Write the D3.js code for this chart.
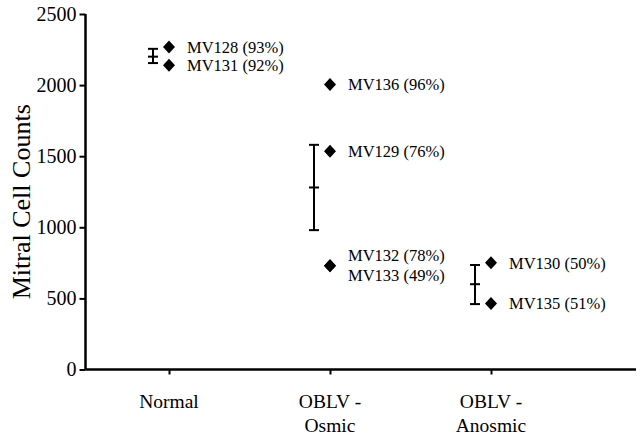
<!DOCTYPE html>
<html>
<head>
<meta charset="utf-8">
<script src="https://cdn.jsdelivr.net/npm/d3@7"></script>
<style>
  html, body { margin: 0; padding: 0; background: #fff; }
  svg { display: block; }
</style>
</head>
<body>
<div id="chart"></div>
<script>
// ---- data ----
const categories = ["Normal", "OBLV - Osmic", "OBLV - Anosmic"];
const categoryLines = [["Normal"], ["OBLV -", "Osmic"], ["OBLV -", "Anosmic"]];
const animals = ["MV128", "MV131", "MV136", "MV129", "MV132", "MV133", "MV130", "MV135"];
const percents = [93, 92, 96, 76, 78, 49, 50, 51];
const groups = ["Normal", "Normal", "OBLV - Osmic", "OBLV - Osmic", "OBLV - Osmic", "OBLV - Osmic", "OBLV - Anosmic", "OBLV - Anosmic"];
const counts = [2268, 2140, 2005, 1535, 730, 730, 750, 465];
const groupMeans = [2200, 1280, 600];
const groupLow = [2155, 980, 460];
const groupHigh = [2255, 1580, 735];
const yTicks = [0, 500, 1000, 1500, 2000, 2500];

// ---- layout ----
const FONT = "'Times New Roman', 'Liberation Serif', Times, 'DejaVu Serif', serif";
const W = 640, H = 437;
const svg = d3.select("#chart").append("svg").attr("width", W).attr("height", H)
  .attr("font-family", FONT).style("font-family", FONT);

const x = d3.scalePoint().domain(categories).range([169, 491]);
const y = d3.scaleLinear().domain([0, 2500]).range([369.5, 14]);
const axisLeftX = 85.5, axisRightX = 636;

// axes
const gy = svg.append("g").attr("transform", `translate(${axisLeftX},0)`)
  .call(d3.axisLeft(y).tickValues(yTicks).tickSize(6).tickPadding(3).tickFormat(d3.format("d")))
  .attr("font-family", FONT).attr("font-size", 20);
gy.select(".domain").attr("d", `M0,${y(2500)}V${y(0)}`).attr("stroke", "#000").attr("stroke-width", 2.5);
gy.selectAll(".tick line").attr("stroke", "#000").attr("stroke-width", 2);
gy.selectAll(".tick text").style("font-family", FONT).style("font-size", "20px").attr("fill", "#000");

const gx = svg.append("g").attr("transform", `translate(0,${y(0)})`)
  .call(d3.axisBottom(x).tickSize(5).tickFormat(""));
gx.select(".domain").attr("d", `M${axisLeftX},0H${axisRightX}`).attr("stroke", "#000").attr("stroke-width", 2.5);
gx.selectAll(".tick line").attr("stroke", "#000").attr("stroke-width", 2);

// x category labels (two lines)
categories.forEach((c, i) => {
  const t = svg.append("text").attr("x", x(c)).attr("y", 408)
    .attr("text-anchor", "middle").style("font-family", FONT).style("font-size", "19.5px").attr("fill", "#000");
  categoryLines[i].forEach((line, j) => {
    t.append("tspan").attr("x", x(c)).attr("dy", j === 0 ? 0 : 24).text(line);
  });
});

// y axis title
svg.append("text")
  .attr("transform", `translate(30,${(y(0) + y(2500)) / 2 + 10}) rotate(-90)`)
  .attr("text-anchor", "middle").style("font-family", FONT).style("font-size", "26px").attr("fill", "#000")
  .text("Mitral Cell Counts");

// error bars (offset left of the category)
const errOffset = -16, cap = 5;
categories.forEach((c, i) => {
  const cx = x(c) + errOffset;
  const g = svg.append("g").attr("stroke", "#000").attr("stroke-width", 2).attr("fill", "none");
  g.append("line").attr("x1", cx).attr("x2", cx).attr("y1", y(groupLow[i])).attr("y2", y(groupHigh[i]));
  [groupLow[i], groupHigh[i], groupMeans[i]].forEach(v => {
    g.append("line").attr("x1", cx - cap).attr("x2", cx + cap).attr("y1", y(v)).attr("y2", y(v));
  });
});

// points
const diamond = "M0,-6.5L6,0L0,6.5L-6,0Z";
const pts = animals.map((a, i) => ({ a, p: percents[i], g: groups[i], v: counts[i] }));
svg.append("g").selectAll("path").data(pts).join("path")
  .attr("d", diamond)
  .attr("transform", d => `translate(${x(d.g)},${y(d.v)})`)
  .attr("fill", "#000");

// labels, stacked when points coincide
const seen = {};
pts.forEach(d => {
  const key = d.g + "|" + d.v;
  seen[key] = (seen[key] || 0) + 1;
});
const idx = {};
pts.forEach(d => {
  const key = d.g + "|" + d.v;
  const n = seen[key];
  idx[key] = (idx[key] || 0);
  const k = idx[key]++;
  const off = n > 1 ? (k - (n - 1) / 2) * 20 : 0;
  svg.append("text")
    .attr("x", x(d.g) + 18)
    .attr("y", y(d.v) + off)
    .attr("dy", "0.35em")
    .style("font-family", FONT)
    .style("font-size", "16.5px")
    .attr("fill", "#000")
    .text(`${d.a} (${d.p}%)`);
});
</script>
</body>
</html>
